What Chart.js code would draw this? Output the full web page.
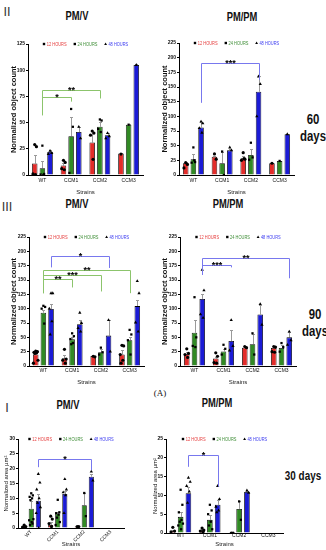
<!DOCTYPE html>
<html><head><meta charset="utf-8">
<script src="https://cdn.jsdelivr.net/npm/chart.js@4.4.1/dist/chart.umd.min.js"></script>
<style>
html,body{margin:0;padding:0;background:#fff}
body{width:326px;height:550px;position:relative;overflow:hidden}
canvas{position:absolute}
.t{position:absolute;white-space:nowrap;transform:translate(-50%,-50%);line-height:1;color:#111}
.ttl{font:bold 12px "Liberation Sans",Arial,sans-serif;transform:translate(-50%,-50%) scaleX(0.78)}
.rom{font:12px "DejaVu Sans",sans-serif;color:#333}
.days{font:bold 15px "Liberation Sans",Arial,sans-serif;transform:translate(-50%,-50%) scaleX(0.76)}
.d30{font:bold 13px "Liberation Sans",Arial,sans-serif;transform:translate(-50%,-50%) scaleX(0.76)}
.fa{font:9px "Liberation Serif","DejaVu Serif",serif}
</style></head><body>
<div class="t rom" style="left:7px;top:12px">II</div>
<div class="t ttl" style="left:77px;top:16px">PM/V</div>
<div class="t ttl" style="left:242px;top:17px">PM/PM</div>
<div class="t days" style="left:313px;top:118px">60</div>
<div class="t days" style="left:313px;top:135px">days</div>
<div class="t rom" style="left:7px;top:207px">III</div>
<div class="t ttl" style="left:77px;top:204px">PM/V</div>
<div class="t ttl" style="left:228px;top:204px">PM/PM</div>
<div class="t days" style="left:315px;top:313px">90</div>
<div class="t days" style="left:315px;top:330px">days</div>
<div class="t fa" style="left:160px;top:393px">(A)</div>
<div class="t rom" style="left:7px;top:408px">I</div>
<div class="t ttl" style="left:68px;top:405px">PM/V</div>
<div class="t ttl" style="left:217px;top:403px">PM/PM</div>
<div class="t d30" style="left:303px;top:475px">30 days</div>
<script>
// ---------- DATA ----------
const strains = ['WT','CCM1','CCM2','CCM3'];
const seriesNames = ['12 HOURS','24 HOURS','48 HOURS'];

// 60 days, PM/V
const d60v_12 = [11, 9, 31, 20.5];
const d60v_24 = [6.5, 37, 46, 48];
const d60v_48 = [22, 41, 38, 105];
const d60v_12e = [8.5, 2, 11, 0.5];
const d60v_24e = [7, 18.5, 4.5, 0.5];
const d60v_48e = [2, 5, 2, 0.5];
const d60v_12p = [[29,27,1,0.5,0],[14,12,6,5],[42,40,38,15],[20]];
const d60v_24p = [[28,1,0.5,0],[63,46,2],[53,52,44,41],[48]];
const d60v_48p = [[23,21,20],[46,35],[40,37,35],[105]];
// [fromStrain, toStrain, series, top, leftEnd, rightEnd, label]
const d60v_br = [[0,2,1,81,57,73,'**'],[0,1,1,74,57,70,'*']];

// 60 days, PM/PM
const d60p_12 = [20, 31, 28.5, 20];
const d60p_24 = [27, 20, 34, 24];
const d60p_48 = [81, 42, 142, 69.5];
const d60p_12e = [2, 1, 4.5, 0.5];
const d60p_24e = [9, 20, 11, 0.5];
const d60p_48e = [10, 3, 26, 0.5];
const d60p_12p = [[21,18,12],[36,27],[38,27,25,28],[20]];
const d60p_24p = [[47,22,21,25],[40,0],[55,30,26],[24]];
const d60p_48p = [[91,88,80,72],[47,42],[168,155,100],[69.5]];
const d60p_br = [[0,2,2,191,123,162,'***']];

// 90 days, PM/V
const d90v_12 = [20, 13.5, 17.5, 20];
const d90v_24 = [93, 46.5, 24, 45];
const d90v_48 = [99.5, 73, 53, 104.5];
const d90v_12e = [2, 5.5, 0.5, 8];
const d90v_24e = [4.5, 4.5, 6, 6];
const d90v_48e = [9.5, 7, 27, 10.5];
const d90v_12p = [[26,25,24,23,22,10,5],[29,12,10,5],[17,16],[36,35,20,10,5]];
const d90v_24p = [[105,103,100,74],[57,52,47,40,38],[32,24,20],[63,55,45,20]];
const d90v_48p = [[127,127,100,78,55],[93,75,66,60],[80,25],[148,127,76,60]];
const d90v_br = [[0,2,2,191,172,171,'*'],[0,3,1,168,127,127,'**'],[0,2,1,159,127,130,'***'],[0,1,1,152,127,137,'**']];

// 90 days, PM/PM
const d90p_12 = [20.5, 13, 32, 31.5];
const d90p_24 = [58, 25.5, 38, 31.5];
const d90p_48 = [117, 43.5, 90, 50];
const d90p_12e = [4.5, 3, 2, 3.5];
const d90p_24e = [22, 3.5, 17, 5];
const d90p_48e = [8, 19, 16, 10];
const d90p_12p = [[30,22,20,15],[23,17,6,5],[34,32],[34,33,25,24]];
const d90p_24p = [[120,50,35,33],[37,30,20],[57,20],[40,33,25]];
const d90p_48p = [[168,132,90,84],[80,35,27],[108,72],[60,45,37]];
const d90p_br = [[0,3,2,188,159,153,'**'],[0,1,2,176.6,159,172,'***']];

// 30 days, PM/V (area)
const d30v_12 = [0.3, 1, 0.5, null];
const d30v_24 = [6.5, 4.9, 7.7, null];
const d30v_48 = [9.2, 11.5, 17.3, null];
const d30v_12e = [0.2, 1, 0, null];
const d30v_24e = [2.5, 0.6, 4, null];
const d30v_48e = [2.3, 1, 1, null];
const d30v_12p = [[1,0.5,0.3,0.1,0],[4,3,1.5,0.5],[0.5,0.5],[]];
const d30v_24p = [[11.7,11,10.5,10,9.4,3,2.6,2,1.5,1],[9.5,5.3,5,4.5,3.5,2,1],[11.8,4],[]];
const d30v_48p = [[18.2,15.3,13,10,8.5,7,5,0],[16.5,13,12,11,5],[19,16],[]];
const d30v_br = [[0,2,2,23.3,20.5,19.5,'*']];

// 30 days, PM/PM (area)
const d30p_12 = [0.5, 0.7, 0, null];
const d30p_24 = [4.3, 3.5, 6.4, null];
const d30p_48 = [10.6, 7.5, 10.9, null];
const d30p_12e = [0.3, 0.3, 0, null];
const d30p_24e = [1.3, 1.2, 2.1, null];
const d30p_48e = [1.6, 1.2, 0.4, null];
const d30p_12p = [[1.5,0.5,0.3],[1.3,0.8,0.5,0.3],[0,0],[]];
const d30p_24p = [[11.5,7.5,5.5,3.5,3,2.5,2,1],[7.5,6,5,3,2,1],[8.4,3.5],[]];
const d30p_48p = [[14.7,13.6,12.5,11,8],[12.5,9,7,6,5.5],[11.3,10.7],[]];
const d30p_br = [[0,1,2,20.7,17.6,12.3,'*']];

// ---------- STYLE ----------
const SANS = '"Liberation Sans",Arial,sans-serif';
const BAR = ['#e32c2a','#318a24','#1b1bd6'];
const LEG = ['#e53a3a','#3c8c34','#3b3bf0'];
const BRK = ['#e53a3a','#8cc46c','#7878ee'];
const SHAPES = ['circle','rect','triangle'];
const LEGSHAPES = ['rect','rect','triangle'];
const CATP = 0.8;
const SLOT = CATP/3;
const JIT = [0,0.06,-0.06,0.03,-0.03,0.08,-0.08,0.015,0.045,-0.045,-0.015];
const CONDENSE = 0.72;

function drawMarker(ctx, shape, x, y, r){
  ctx.fillStyle='#000'; ctx.beginPath();
  if(shape==='rect'){ctx.rect(x-r,y-r,2*r,2*r);}
  else if(shape==='triangle'){ctx.moveTo(x,y-r*1.3);ctx.lineTo(x+r*1.2,y+r*0.9);ctx.lineTo(x-r*1.2,y+r*0.9);ctx.closePath();}
  else {ctx.arc(x,y,r,0,Math.PI*2);}
  ctx.fill();
}
function errPlugin(errs){ return {id:'err', beforeDatasetsDraw(chart){
  const ctx=chart.ctx, y=chart.scales.y; ctx.save(); ctx.strokeStyle='#9a9a9a'; ctx.lineWidth=1;
  for(let s=0;s<3;s++){ const meta=chart.getDatasetMeta(s);
    meta.data.forEach((el,i)=>{ const m=chart.data.datasets[s].data[i], e=errs[s][i];
      if(m==null||!e) return; const x=Math.round(el.x)+0.5;
      const y0=y.getPixelForValue(m), y1=Math.round(y.getPixelForValue(m+e))+0.5;
      ctx.beginPath(); ctx.moveTo(x,y0); ctx.lineTo(x,y1); ctx.moveTo(x-1.5,y1); ctx.lineTo(x+1.5,y1); ctx.stroke(); }); }
  ctx.restore(); } }; }
function bracketPlugin(list){ return {id:'brk', afterDatasetsDraw(chart){
  const ctx=chart.ctx, xs=chart.scales.xs, y=chart.scales.y; ctx.save();
  list.forEach(b=>{ const [c1,c2,s,top,e1,e2,txt]=b;
    const x1=Math.round(xs.getPixelForValue(c1+(s-1)*SLOT))+0.5, x2=Math.round(xs.getPixelForValue(c2+(s-1)*SLOT))+0.5;
    const yt=Math.round(y.getPixelForValue(top))+0.5;
    ctx.strokeStyle=BRK[s]; ctx.lineWidth=1; ctx.beginPath();
    ctx.moveTo(x1,y.getPixelForValue(e1)); ctx.lineTo(x1,yt); ctx.lineTo(x2,yt); ctx.lineTo(x2,y.getPixelForValue(e2)); ctx.stroke();
    ctx.fillStyle='#000'; ctx.font='bold 9px '+SANS; ctx.textAlign='center'; ctx.textBaseline='alphabetic';
    ctx.fillText(txt,(x1+x2)/2,yt+2.5); });
  ctx.restore(); } }; }
const legendPlugin = {id:'rowLegend', afterDraw(chart){
  const ctx=chart.ctx, ca=chart.chartArea; ctx.save(); ctx.font='5.5px '+SANS;
  const gap=7, mk=4; const ws=seriesNames.map(n=>ctx.measureText(n).width*CONDENSE+mk);
  const tot=ws.reduce((a,b)=>a+b,0)+gap*2; let x=(ca.left+ca.right)/2-tot/2; const y=ca.top;
  seriesNames.forEach((n,i)=>{ drawMarker(ctx,LEGSHAPES[i],x+1.2,y,1.2);
    ctx.fillStyle=LEG[i]; ctx.textBaseline='middle'; ctx.textAlign='left';
    ctx.save(); ctx.translate(x+mk,y+0.5); ctx.scale(CONDENSE,1); ctx.fillText(n,0,0); ctx.restore();
    x+=ws[i]+gap; });
  ctx.restore(); } };

function makeScales(o, yMax, yStep, yTitle, vis){
  const c = v => vis ? v : 'rgba(0,0,0,0)';
  return {
    x:{type:'category',labels:strains,offset:true,grid:{display:true,drawOnChartArea:false,drawTicks:false,color:c('#000')},border:{color:c('#000'),width:1},
       ticks:{font:{size:5,family:SANS},color:c('#111'),padding:o.xpad,maxRotation:o.rot,minRotation:o.rot,autoSkip:false},
       title:{display:true,text:'Strains',font:{size:6,family:SANS},color:c('#222'),padding:0},
       afterFit:s=>{s.height=o.xH;}},
    xs:{type:'linear',display:false,min:-0.5,max:3.5},
    y:{type:'linear',min:0,max:yMax,ticks:{stepSize:yStep,font:{size:5,weight:'bold',family:SANS},color:c('#111'),padding:1},
       grid:{display:true,drawOnChartArea:false,drawTicks:true,tickLength:2,color:c('#000')},border:{color:c('#000'),width:1},
       title:{display:true,text:yTitle,font:o.tf,color:c('#111'),padding:0},
       afterFit:s=>{s.width=o.yW;}}
  };
}
function addCanvas(g){
  const cv=document.createElement('canvas'); cv.width=g.w; cv.height=g.h;
  cv.style.left=g.left+'px'; cv.style.top=g.top+'px'; document.body.appendChild(cv); return cv;
}
function panel(g, means, errs, pts, brackets, yMax, yStep, yTitle){
  const base={responsive:false,animation:false,devicePixelRatio:1,
      layout:{padding:{top:8,right:4,left:0,bottom:0}},
      plugins:{legend:{display:false},tooltip:{enabled:false}}};
  const bars=[];
  for(let s=0;s<3;s++) bars.push({label:seriesNames[s],data:means[s],backgroundColor:BAR[s],borderColor:'#000',borderWidth:0.8,categoryPercentage:CATP,barPercentage:0.72});
  new Chart(addCanvas(g),{type:'bar',data:{labels:strains,datasets:bars},
    options:Object.assign({},base,{scales:makeScales(g,yMax,yStep,yTitle,true)}),
    plugins:[errPlugin(errs)]});
  const dots=[];
  for(let s=0;s<3;s++){ const d=[];
    pts[s].forEach((arr,i)=>arr.forEach((v,k)=>d.push({x:i+(s-1)*SLOT+JIT[k%JIT.length],y:v})));
    dots.push({label:seriesNames[s]+' points',data:d,xAxisID:'xs',yAxisID:'y',pointStyle:SHAPES[s],pointRadius:s===2?1.9:1.6,backgroundColor:'#000',borderColor:'#000',borderWidth:0});
  }
  new Chart(addCanvas(g),{type:'scatter',data:{labels:strains,datasets:dots},
    options:Object.assign({},base,{scales:makeScales(g,yMax,yStep,yTitle,false)}),
    plugins:[bracketPlugin(brackets),legendPlugin]});
}
const BOLDT={size:7.5,weight:'bold',family:SANS};
const AREAT={size:6,family:SANS};
// layout of each panel: canvas box, y-axis width, x-axis height
const G1={left:9,top:36,w:138,h:160,yW:19,xH:21,xpad:2.4,rot:0,tf:BOLDT};
const G2={left:160,top:35,w:138,h:161,yW:19,xH:21,xpad:2.4,rot:0,tf:BOLDT};
const G3={left:9,top:229,w:139,h:157,yW:20,xH:20,xpad:2,rot:0,tf:BOLDT};
const G4={left:160,top:229,w:140,h:157,yW:20,xH:20,xpad:2,rot:0,tf:BOLDT};
const G5={left:3,top:431,w:125,h:117,yW:15,xH:20,xpad:1,rot:45,tf:AREAT};
const G6={left:152,top:431,w:135,h:117,yW:14,xH:15,xpad:0,rot:0,tf:AREAT};
panel(G1,[d60v_12,d60v_24,d60v_48],[d60v_12e,d60v_24e,d60v_48e],[d60v_12p,d60v_24p,d60v_48p],d60v_br,125,25,'Normalized object count');
panel(G2,[d60p_12,d60p_24,d60p_48],[d60p_12e,d60p_24e,d60p_48e],[d60p_12p,d60p_24p,d60p_48p],d60p_br,225,25,'Normalized object count');
panel(G3,[d90v_12,d90v_24,d90v_48],[d90v_12e,d90v_24e,d90v_48e],[d90v_12p,d90v_24p,d90v_48p],d90v_br,225,25,'Normalized object count');
panel(G4,[d90p_12,d90p_24,d90p_48],[d90p_12e,d90p_24e,d90p_48e],[d90p_12p,d90p_24p,d90p_48p],d90p_br,225,25,'Normalized object count');
panel(G5,[d30v_12,d30v_24,d30v_48],[d30v_12e,d30v_24e,d30v_48e],[d30v_12p,d30v_24p,d30v_48p],d30v_br,30,5,'Normalized area µm²');
panel(G6,[d30p_12,d30p_24,d30p_48],[d30p_12e,d30p_24e,d30p_48e],[d30p_12p,d30p_24p,d30p_48p],d30p_br,25,5,'Normalized area µm²');
</script>
</body></html>
